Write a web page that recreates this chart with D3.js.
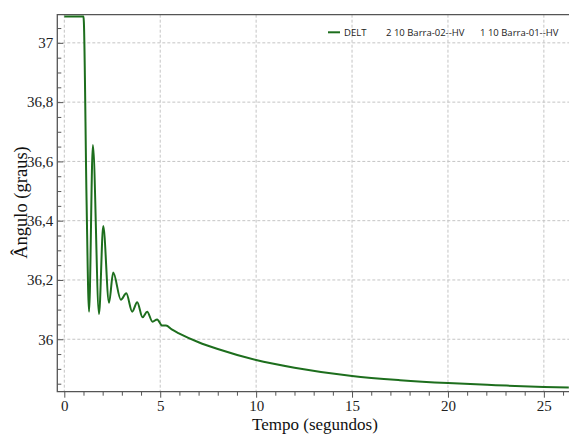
<!DOCTYPE html>
<html>
<head>
<meta charset="utf-8">
<script src="https://cdn.jsdelivr.net/npm/d3@7"></script>
<style>
  body { margin: 0; background: #fff; }
  svg { display: block; }
  .serif { font-family: "Liberation Serif", "DejaVu Serif", serif; }
</style>
</head>
<body>
<div id="chart"></div>
<script>
// Values
const timeS = [0, 1.0, 1.02, 1.16, 1.29, 1.49, 1.81, 2.03, 2.33, 2.55, 2.95, 3.23, 3.54, 3.80, 4.08, 4.32,
  4.60, 4.84, 5.10, 5.30, 5.6, 6.0, 7.0, 8.0, 10, 12, 15, 17.5, 20, 22.5, 25, 26.3];
const angle = [37.089, 37.089, 37.07, 36.47, 36.093, 36.655, 36.085, 36.382, 36.123, 36.225, 36.133, 36.155,
  36.093, 36.125, 36.074, 36.093, 36.059, 36.067, 36.046, 36.046, 36.033, 36.019, 35.99, 35.967, 35.930,
  35.904, 35.876, 35.862, 35.852, 35.845, 35.839, 35.837];
const xTicks = [0, 5, 10, 15, 20, 25];
const yTicks = [36, 36.2, 36.4, 36.6, 36.8, 37];
const legendItems = ['DELT', '2 10 Barra-02--HV', '1 10 Barra-01--HV'];

const width = 569, height = 434;
const plotLeft = 57.3, plotRight = 569, plotTop = 14.7, plotBottom = 391.7;
const green = '#1d6e1d';
const axisColor = '#555';

const svg = d3.select('#chart').append('svg')
  .attr('width', width)
  .attr('height', height);

const x = d3.scaleLinear().domain([-0.365, 26.31]).range([plotLeft, plotRight]);
const y = d3.scaleLinear().domain([35.823, 37.095]).range([plotBottom, plotTop]);

// dashed grid
svg.append('g').selectAll('line')
  .data(xTicks)
  .join('line')
  .attr('x1', d => x(d)).attr('x2', d => x(d))
  .attr('y1', plotTop).attr('y2', plotBottom)
  .attr('stroke', '#c4c4c4')
  .attr('stroke-dasharray', '3,2');

svg.append('g').selectAll('line')
  .data(yTicks)
  .join('line')
  .attr('x1', plotLeft).attr('x2', plotRight)
  .attr('y1', d => y(d)).attr('y2', d => y(d))
  .attr('stroke', '#c4c4c4')
  .attr('stroke-dasharray', '3,2');

// minor ticks
const xMinor = d3.range(0, 27, 1).filter(v => v % 5 !== 0);
const yMinor = d3.range(35.85, 37.1, 0.05).filter(v => Math.abs(v * 5 - Math.round(v * 5)) > 1e-6);

svg.append('g')
  .attr('transform', `translate(0,${plotBottom})`)
  .call(d3.axisBottom(x).tickValues(xMinor).tickSize(4).tickFormat(''))
  .call(g => g.select('.domain').remove())
  .call(g => g.selectAll('line').attr('stroke', axisColor));

svg.append('g')
  .attr('transform', `translate(${plotLeft},0)`)
  .call(d3.axisLeft(y).tickValues(yMinor).tickSize(-4).tickFormat(''))
  .call(g => g.select('.domain').remove())
  .call(g => g.selectAll('line').attr('stroke', axisColor));

// major axes
const fmt = d => d3.format('.1f')(d).replace(/\.0$/, '').replace('.', ',');

svg.append('g')
  .attr('transform', `translate(0,${plotBottom})`)
  .call(d3.axisBottom(x).tickValues(xTicks).tickSize(6).tickPadding(3).tickFormat(d3.format('d')))
  .attr('font-family', '"Liberation Serif", "DejaVu Serif", serif')
  .attr('font-size', 15)
  .call(g => g.select('.domain').remove())
  .call(g => g.selectAll('line').attr('stroke', axisColor))
  .call(g => g.selectAll('text').attr('fill', '#222'));

svg.append('g')
  .attr('transform', `translate(${plotLeft},0)`)
  .call(d3.axisLeft(y).tickValues(yTicks).tickSize(-6).tickPadding(4).tickFormat(fmt))
  .attr('font-family', '"Liberation Serif", "DejaVu Serif", serif')
  .attr('font-size', 15)
  .call(g => g.select('.domain').remove())
  .call(g => g.selectAll('line').attr('stroke', axisColor))
  .call(g => g.selectAll('text').attr('fill', '#222'));

// frame: left, top, bottom
svg.append('path')
  .attr('d', `M${plotRight},${plotTop}H${plotLeft}V${plotBottom}H${plotRight}`)
  .attr('fill', 'none')
  .attr('stroke', axisColor)
  .attr('stroke-width', 1.3);

// curve
const data = timeS.map((t, i) => [t, angle[i]]);
const line = d3.line()
  .x(d => x(d[0]))
  .y(d => y(d[1]))
  .curve(d3.curveMonotoneX);

svg.append('path')
  .datum(data)
  .attr('d', line)
  .attr('fill', 'none')
  .attr('stroke', green)
  .attr('stroke-width', 2);

// legend
const legend = svg.append('g')
  .attr('font-family', '"Open Sans", "DejaVu Sans", sans-serif')
  .attr('font-size', 9.5)
  .attr('fill', '#222');

legend.append('line')
  .attr('x1', 328).attr('x2', 340)
  .attr('y1', 32.3).attr('y2', 32.3)
  .attr('stroke', green)
  .attr('stroke-width', 2);

const legendX = [344, 386, 480];
legend.selectAll('text')
  .data(legendItems)
  .join('text')
  .attr('x', (d, i) => legendX[i])
  .attr('y', 35.8)
  .text(d => d);

// axis titles
svg.append('text')
  .attr('class', 'serif')
  .attr('x', 315)
  .attr('y', 430)
  .attr('text-anchor', 'middle')
  .attr('fill', '#111')
  .attr('font-size', 17)
  .text('Tempo (segundos)');

svg.append('text')
  .attr('class', 'serif')
  .attr('transform', 'translate(27,202.5) rotate(-90)')
  .attr('text-anchor', 'middle')
  .attr('fill', '#111')
  .attr('font-size', 18.5)
  .text('Ângulo (graus)');
</script>
</body>
</html>
